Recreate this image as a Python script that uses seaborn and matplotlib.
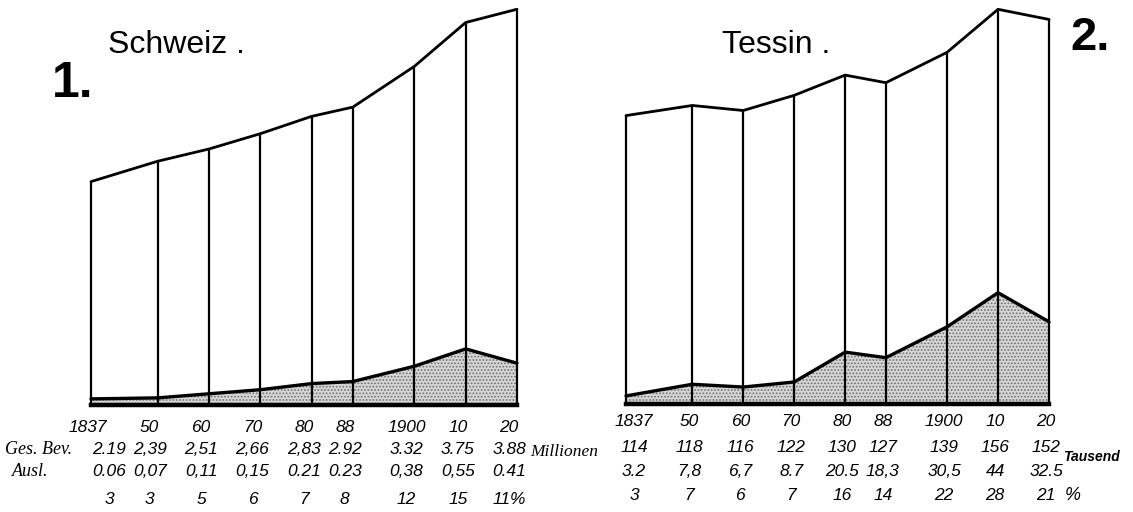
import matplotlib
matplotlib.use("Agg")
import matplotlib.pyplot as plt
import matplotlib.transforms as mtransforms
import pandas as pd
import seaborn as sns

# census years and the labels written under the columns
years = [1837, 1850, 1860, 1870, 1880, 1888, 1900, 1910, 1920]
year_labels = ["1837", "50", "60", "70", "80", "88", "1900", "10", "20"]

# Schweiz, millions
ch_total = [2.19, 2.39, 2.51, 2.66, 2.83, 2.92, 3.32, 3.75, 3.88]
ch_foreign = [0.06, 0.07, 0.11, 0.15, 0.21, 0.23, 0.38, 0.55, 0.41]
ch_total_labels = ["2.19", "2,39", "2,51", "2,66", "2,83", "2.92", "3.32", "3.75", "3.88"]
ch_foreign_labels = ["0.06", "0,07", "0,11", "0,15", "0.21", "0.23", "0,38", "0,55", "0.41"]
ch_pct_labels = ["3", "3", "5", "6", "7", "8", "12", "15", "11%"]

# Tessin, thousands
ti_total = [114, 118, 116, 122, 130, 127, 139, 156, 152]
ti_foreign = [3.2, 7.8, 6.7, 8.7, 20.5, 18.3, 30.5, 44, 32.5]
ti_total_labels = ["114", "118", "116", "122", "130", "127", "139", "156", "152"]
ti_foreign_labels = ["3.2", "7,8", "6,7", "8.7", "20.5", "18,3", "30,5", "44", "32.5"]
ti_pct_labels = ["3", "7", "6", "7", "16", "14", "22", "28", "21"]

W, H = 1133, 512

sns.set_style("white")
plt.rcParams["font.family"] = ["Liberation Sans Narrow", "Liberation Sans", "DejaVu Sans"]
plt.rcParams["text.color"] = "black"
plt.rcParams["hatch.linewidth"] = 0.8
plt.rcParams["hatch.color"] = "#6e6e6e"

fig = plt.figure(figsize=(W / 100, H / 100), dpi=100)


def draw_panel(left, right, base, ymax_px, scale, total, foreign):
    ax = fig.add_axes([left / W, 1 - base / H, (right - left) / W, ymax_px / H])
    df = pd.DataFrame({"year": years, "total": total, "foreign": foreign})
    ax.fill_between(df["year"], 0, df["foreign"], facecolor="#d6d6d6",
                    edgecolor="#6e6e6e", hatch=".....", linewidth=0, zorder=1)
    ax.vlines(df["year"], 0, df["total"], color="black", lw=1.6, zorder=3,
              clip_on=False)
    sns.lineplot(data=df, x="year", y="total", color="black", lw=2.0,
                 ax=ax, clip_on=False, zorder=4)
    sns.lineplot(data=df, x="year", y="foreign", color="black", lw=2.4,
                 ax=ax, clip_on=False, zorder=4)
    ax.plot([years[0], years[-1]], [0, 0], color="black", lw=3.2,
            clip_on=False, zorder=5, solid_capstyle="projecting")
    ax.set_xlim(years[0], years[-1])
    ax.set_ylim(0, ymax_px / scale)
    ax.axis("off")
    return ax


def draw_table(ax, rows, row_y, dx, first_year_dx, first_val_dx):
    base = mtransforms.blended_transform_factory(ax.transData, fig.transFigure)
    for r, (labels, y) in enumerate(zip(rows, row_y)):
        for i, (yr, lab) in enumerate(zip(years, labels)):
            shift = dx
            if i == 0:
                shift += first_val_dx if r > 0 else first_year_dx
            tr = mtransforms.offset_copy(base, fig=fig, x=shift, y=0, units="dots")
            ax.text(yr, 1 - y / H, lab, transform=tr, ha="center", va="center",
                    style="italic", fontsize=12.5)


ax1 = draw_panel(91, 517, 405, 400, 102.0, ch_total, ch_foreign)
ax2 = draw_panel(626, 1049, 404, 400, 2.53, ti_total, ti_foreign)

draw_table(ax1, [year_labels, ch_total_labels, ch_foreign_labels, ch_pct_labels],
           [427, 450, 472, 500], dx=-8, first_year_dx=5, first_val_dx=26)
draw_table(ax2, [year_labels, ti_total_labels, ti_foreign_labels, ti_pct_labels],
           [422, 448, 472, 496], dx=-3, first_year_dx=11, first_val_dx=11)

# row captions and units
serif = ["Liberation Serif", "DejaVu Serif"]
fig.text(5 / W, 1 - 450 / H, "Ges. Bev.", style="italic", fontsize=13, va="center",
         family=serif)
fig.text(12 / W, 1 - 472 / H, "Ausl.", style="italic", fontsize=13, va="center",
         family=serif)
fig.text(530 / W, 1 - 452 / H, "Millionen", style="italic", fontsize=12.5, va="center",
         family=serif)
fig.text(1063 / W, 1 - 457 / H, "Tausend", style="italic", fontsize=10, va="center",
         fontweight="bold")
fig.text(1065 / W, 1 - 496 / H, "%", style="italic", fontsize=13, va="center")

# titles and panel numbers
fig.text(108 / W, 1 - 53 / H, "Schweiz .", fontsize=23, va="baseline")
fig.text(722 / W, 1 - 53 / H, "Tessin .", fontsize=23, va="baseline")
fig.text(52 / W, 1 - 97 / H, "1.", fontsize=36, fontweight="bold", va="baseline")
fig.text(1070 / W, 1 - 50 / H, "2.", fontsize=34, fontweight="bold", va="baseline")

fig.savefig("out.png", dpi=100)
plt.close(fig)
